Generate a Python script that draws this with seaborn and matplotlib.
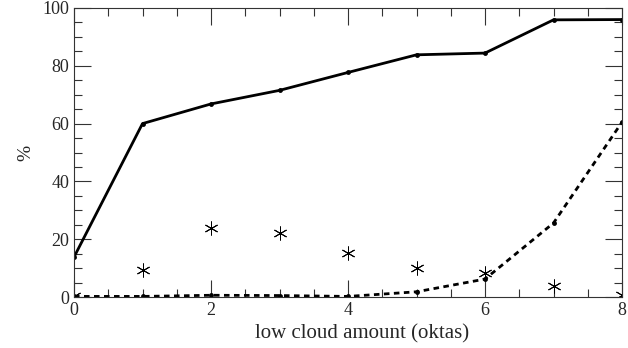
import numpy as np
import pandas as pd
import matplotlib
matplotlib.use("Agg")
import matplotlib.pyplot as plt
import seaborn as sns
from matplotlib.ticker import MultipleLocator

oktas = [0, 1, 2, 3, 4, 5, 6, 7, 8]
solid_vals = [13.8, 60.0, 66.8, 71.5, 77.7, 83.8, 84.4, 95.9, 96.0]
dashed_vals = [0.2, 0.2, 0.6, 0.5, 0.2, 1.8, 6.2, 25.6, 60.5]
star_vals = [0.5, 9.3, 23.9, 22.2, 15.1, 10.2, 8.2, 3.8, 0.6]

sns.set_style("ticks")
plt.rcParams['font.family'] = ['Liberation Serif', 'DejaVu Serif']

fig = plt.figure(figsize=(6.28, 3.48), dpi=100)
ax = fig.add_axes([74/628, 1-297/348, (622-74)/628, (297-8)/348])

df = pd.DataFrame({"x": oktas, "solid": solid_vals, "dashed": dashed_vals, "star": star_vals})

sns.lineplot(data=df, x="x", y="solid", ax=ax, color="black", lw=2.0,
             marker="o", markersize=3.5, markeredgewidth=0)
sns.lineplot(data=df, x="x", y="dashed", ax=ax, color="black", lw=2.0,
             linestyle=(0, (2, 1.6)), marker="o", markersize=3.5, markeredgewidth=0)
sns.scatterplot(data=df, x="x", y="star", ax=ax, color="black", marker=(6, 2, 0),
                s=90, linewidth=0.7, edgecolor="black")

ax.set_xlim(0, 8)
ax.set_ylim(0, 100)
ax.xaxis.set_major_locator(MultipleLocator(2))
ax.xaxis.set_minor_locator(MultipleLocator(0.5))
ax.yaxis.set_major_locator(MultipleLocator(20))
ax.yaxis.set_minor_locator(MultipleLocator(5))
ax.tick_params(which="both", direction="in", top=True, right=True, labelsize=13, color="#333333")
ax.tick_params(which="major", length=12, width=0.8)
ax.tick_params(which="minor", length=6, width=0.8)
for s in ax.spines.values():
    s.set_linewidth(0.8)
    s.set_color("#333333")
ax.set_xlabel("low cloud amount (oktas)", fontsize=15)
ax.xaxis.set_label_coords(0.525, -0.095)
ax.set_ylabel("%", fontsize=14, labelpad=6)

fig.savefig("out.png", dpi=100)
